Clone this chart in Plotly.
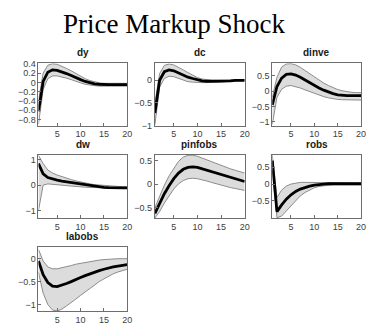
import plotly.graph_objects as go

W, H = 373, 332

# Horizon (quarters)
periods = list(range(1, 21))
x_ticks = [5, 10, 15, 20]

# Posterior mean responses and HPD bands to a price markup shock
dy_mean = [-0.62, 0.02, 0.22, 0.27, 0.26, 0.23, 0.19, 0.15, 0.10, 0.06, 0.02, -0.01, -0.03, -0.04, -0.05, -0.05, -0.05, -0.05, -0.05, -0.05]
dy_hi = [-0.40, 0.20, 0.37, 0.40, 0.39, 0.35, 0.30, 0.25, 0.19, 0.13, 0.08, 0.04, 0.01, -0.01, -0.02, -0.02, -0.02, -0.02, -0.02, -0.02]
dy_lo = [-0.90, -0.15, 0.08, 0.14, 0.14, 0.12, 0.09, 0.06, 0.02, -0.01, -0.04, -0.06, -0.07, -0.08, -0.08, -0.08, -0.08, -0.08, -0.08, -0.08]

dc_mean = [-0.72, 0.00, 0.19, 0.23, 0.21, 0.16, 0.11, 0.07, 0.04, 0.01, -0.01, -0.02, -0.02, -0.02, -0.02, -0.01, -0.01, 0.00, 0.00, 0.00]
dc_hi = [-0.50, 0.15, 0.33, 0.36, 0.34, 0.29, 0.23, 0.17, 0.11, 0.06, 0.03, 0.01, 0.00, 0.00, 0.00, 0.00, 0.00, 0.01, 0.01, 0.01]
dc_lo = [-0.98, -0.15, 0.04, 0.09, 0.08, 0.04, 0.00, -0.03, -0.04, -0.05, -0.05, -0.05, -0.05, -0.04, -0.04, -0.03, -0.02, -0.02, -0.01, -0.01]

dinve_mean = [-0.45, 0.15, 0.42, 0.54, 0.56, 0.52, 0.45, 0.36, 0.27, 0.18, 0.10, 0.03, -0.03, -0.08, -0.12, -0.14, -0.15, -0.15, -0.15, -0.15]
dinve_hi = [-0.20, 0.45, 0.78, 0.88, 0.89, 0.85, 0.77, 0.67, 0.56, 0.45, 0.35, 0.26, 0.18, 0.11, 0.05, 0.01, -0.02, -0.04, -0.05, -0.05]
dinve_lo = [-1.08, -0.20, 0.06, 0.16, 0.18, 0.15, 0.10, 0.04, -0.02, -0.08, -0.13, -0.18, -0.22, -0.25, -0.27, -0.28, -0.29, -0.29, -0.29, -0.29]

dw_mean = [0.85, 0.45, 0.30, 0.24, 0.20, 0.16, 0.13, 0.10, 0.07, 0.04, 0.01, -0.02, -0.05, -0.07, -0.09, -0.10, -0.11, -0.11, -0.11, -0.11]
dw_hi = [1.18, 0.85, 0.60, 0.48, 0.40, 0.33, 0.27, 0.22, 0.17, 0.12, 0.08, 0.05, 0.02, 0.00, -0.02, -0.03, -0.04, -0.05, -0.06, -0.07]
dw_lo = [-1.00, 0.00, 0.05, 0.04, 0.02, 0.00, -0.02, -0.04, -0.05, -0.07, -0.08, -0.09, -0.10, -0.11, -0.12, -0.12, -0.13, -0.13, -0.13, -0.13]

pinfobs_mean = [-0.62, -0.40, -0.20, -0.03, 0.12, 0.24, 0.32, 0.36, 0.37, 0.36, 0.33, 0.30, 0.27, 0.24, 0.21, 0.18, 0.15, 0.12, 0.09, 0.06]
pinfobs_hi = [-0.50, -0.25, -0.02, 0.18, 0.35, 0.49, 0.58, 0.62, 0.62, 0.60, 0.56, 0.52, 0.48, 0.44, 0.40, 0.36, 0.33, 0.30, 0.27, 0.24]
pinfobs_lo = [-0.72, -0.58, -0.40, -0.24, -0.10, 0.01, 0.08, 0.12, 0.13, 0.12, 0.10, 0.07, 0.04, 0.01, -0.02, -0.05, -0.07, -0.09, -0.11, -0.13]

robs_mean = [0.70, -0.82, -0.62, -0.45, -0.32, -0.22, -0.15, -0.10, -0.06, -0.03, -0.01, 0.00, 0.01, 0.01, 0.01, 0.01, 0.01, 0.01, 0.01, 0.01]
robs_hi = [0.86, -0.40, -0.18, -0.06, 0.00, 0.03, 0.05, 0.05, 0.05, 0.05, 0.05, 0.04, 0.04, 0.04, 0.03, 0.03, 0.03, 0.03, 0.03, 0.03]
robs_lo = [0.40, -1.00, -0.95, -0.80, -0.62, -0.47, -0.35, -0.25, -0.17, -0.11, -0.07, -0.05, -0.03, -0.02, -0.02, -0.02, -0.02, -0.02, -0.02, -0.02]

labobs_mean = [-0.05, -0.35, -0.52, -0.60, -0.61, -0.58, -0.54, -0.50, -0.45, -0.41, -0.37, -0.33, -0.29, -0.26, -0.23, -0.20, -0.18, -0.16, -0.14, -0.13]
labobs_hi = [0.20, -0.05, -0.18, -0.22, -0.22, -0.20, -0.18, -0.15, -0.12, -0.10, -0.08, -0.06, -0.04, -0.03, -0.02, -0.01, 0.00, 0.00, 0.00, 0.00]
labobs_lo = [-0.30, -0.75, -1.00, -1.12, -1.14, -1.10, -1.03, -0.96, -0.88, -0.80, -0.72, -0.64, -0.57, -0.50, -0.44, -0.38, -0.33, -0.29, -0.26, -0.23]

# name, mean, lower, upper, y-range, y-ticks
panels = [
    ("dy", dy_mean, dy_lo, dy_hi, [-0.93, 0.41], [0.4, 0.2, 0, -0.2, -0.4, -0.6, -0.8]),
    ("dc", dc_mean, dc_lo, dc_hi, [-1.0, 0.375], [0, -0.5, -1]),
    ("dinve", dinve_mean, dinve_lo, dinve_hi, [-1.12, 0.9], [0.5, 0, -0.5, -1]),
    ("dw", dw_mean, dw_lo, dw_hi, [-1.3, 1.2], [1, 0, -1]),
    ("pinfobs", pinfobs_mean, pinfobs_lo, pinfobs_hi, [-0.72, 0.63], [0.5, 0, -0.5]),
    ("robs", robs_mean, robs_lo, robs_hi, [-1.01, 0.87], [0.5, 0, -0.5]),
    ("labobs", labobs_mean, labobs_lo, labobs_hi, [-1.15, 0.25], [0, -0.5, -1]),
]

# panel boxes in pixels
col_px = [(39, 129), (157, 248), (276, 366)]
row_px = [(61, 125), (155, 220), (250, 316)]

fig = go.Figure()
annotations = []
tick_font = dict(family="Liberation Sans, Arial, sans-serif", size=9, color="#404040")

for i, (name, mean, lo, hi, yr, yt) in enumerate(panels):
    r, c = divmod(i, 3)
    k = i + 1
    xa, ya = f"x{k}", f"y{k}"
    x0, x1 = col_px[c]
    y0, y1 = row_px[r]

    fig.add_trace(go.Scatter(x=periods, y=lo, xaxis=xa, yaxis=ya, mode="lines",
                             line=dict(color="#8c8c8c", width=1), showlegend=False,
                             hoverinfo="skip"))
    fig.add_trace(go.Scatter(x=periods, y=hi, xaxis=xa, yaxis=ya, mode="lines",
                             line=dict(color="#8c8c8c", width=1), fill="tonexty",
                             fillcolor="#dcdcdc", showlegend=False, hoverinfo="skip"))
    fig.add_trace(go.Scatter(x=periods, y=mean, xaxis=xa, yaxis=ya, mode="lines",
                             line=dict(color="black", width=2.8), showlegend=False))

    axis_common = dict(showline=True, linecolor="#6e6e6e", linewidth=1, mirror=True,
                       ticks="inside", ticklen=3, tickcolor="#6e6e6e",
                       showgrid=False, zeroline=False, tickfont=tick_font)
    fig.layout[f"xaxis{k}" if k > 1 else "xaxis"] = dict(
        domain=[x0 / W, x1 / W], anchor=ya, range=[1, 20],
        tickvals=x_ticks, **axis_common)
    fig.layout[f"yaxis{k}" if k > 1 else "yaxis"] = dict(
        domain=[1 - y1 / H, 1 - y0 / H], anchor=xa, range=yr,
        tickvals=yt, **axis_common)

    annotations.append(dict(text=f"<b>{name}</b>", x=(x0 + x1) / 2 / W, y=1 - (y0 - 3) / H,
                            xref="paper", yref="paper", xanchor="center", yanchor="bottom",
                            showarrow=False,
                            font=dict(family="Liberation Sans, Arial, sans-serif",
                                      size=10, color="#1a1a1a")))

annotations.append(dict(text="Price Markup Shock", x=176 / W, y=1 - 21 / H,
                        xref="paper", yref="paper", xanchor="center", yanchor="middle",
                        showarrow=False,
                        font=dict(family="Liberation Serif, Times New Roman, serif",
                                  size=27, color="black")))

fig.update_layout(width=W, height=H, margin=dict(l=0, r=0, t=0, b=0),
                  paper_bgcolor="white", plot_bgcolor="white",
                  annotations=annotations)

fig.write_html("out.html")
